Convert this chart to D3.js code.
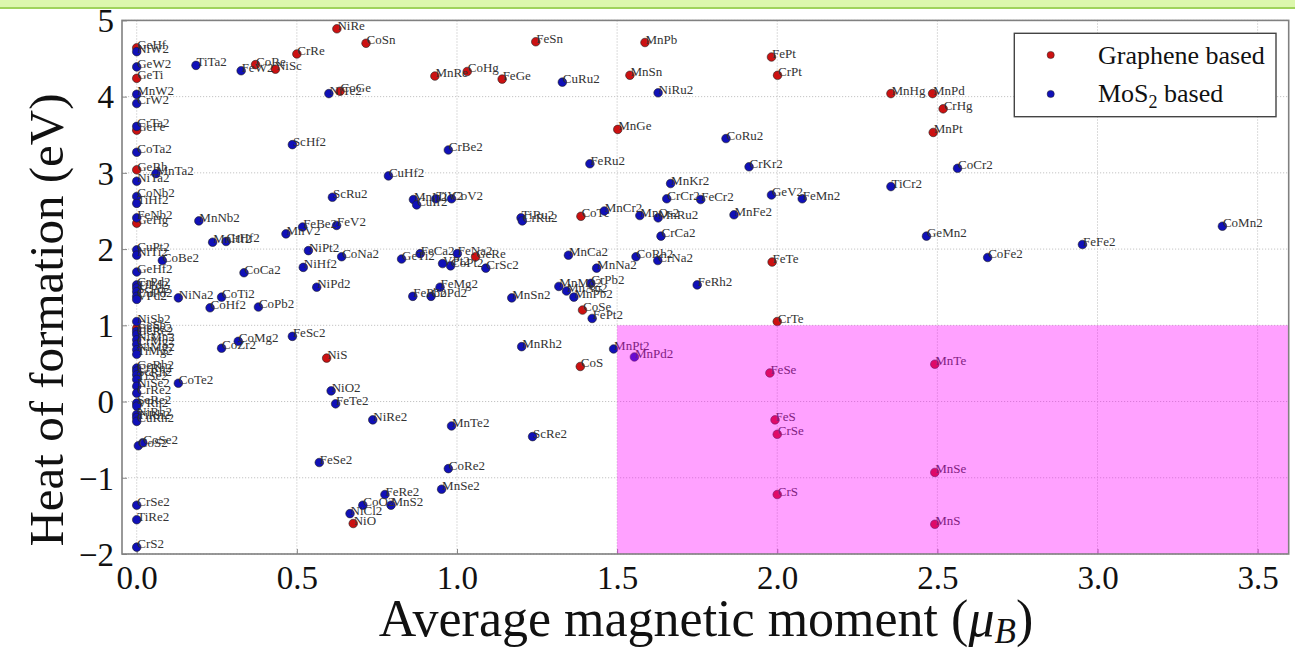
<!DOCTYPE html>
<html>
<head>
<meta charset="utf-8">
<script src="https://cdn.jsdelivr.net/npm/d3@7"></script>
<style>
  html, body { margin: 0; padding: 0; background: #fff; }
  svg { display: block; }
  text { font-family: "Liberation Serif", "Times New Roman", Times, serif; }
</style>
</head>
<body>
<svg id="chart" width="1295" height="651"></svg>
<script>
// Graphene-supported adatoms: [name, average magnetic moment (muB), heat of formation (eV)]
const graphene = [
  ["GeHf", 0.0, 4.64], ["GeTi", 0.0, 4.24], ["GeFe", 0.0, 3.56], ["GeRh", 0.0, 3.04],
  ["GeHg", 0.0, 2.34], ["GeSb", 0.0, 0.96],
  ["NiRe", 0.625, 4.89], ["CoSn", 0.716, 4.70], ["FeSn", 1.246, 4.72], ["MnPb", 1.587, 4.71],
  ["FePt", 1.982, 4.52], ["CrPt", 2.001, 4.28], ["CrRe", 0.50, 4.56], ["CoRe", 0.371, 4.42],
  ["NiSc", 0.433, 4.36], ["CoGe", 0.635, 4.07], ["MnRe", 0.931, 4.27], ["CoHg", 1.032, 4.33],
  ["FeGe", 1.141, 4.23], ["MnSn", 1.54, 4.28], ["MnGe", 1.502, 3.57], ["MnHg", 2.355, 4.04],
  ["MnPd", 2.485, 4.04], ["CrHg", 2.518, 3.84], ["MnPt", 2.487, 3.53], ["CoTe", 1.387, 2.43],
  ["GeRe", 1.058, 1.90], ["FeTe", 1.984, 1.83], ["CoSe", 1.392, 1.20], ["CrTe", 2.0, 1.05],
  ["NiS", 0.593, 0.57], ["CoS", 1.385, 0.46], ["FeSe", 1.977, 0.375], ["MnTe", 2.492, 0.49],
  ["FeS", 1.993, -0.24], ["CrSe", 2.0, -0.43], ["MnSe", 2.492, -0.93], ["CrS", 2.0, -1.22],
  ["MnS", 2.492, -1.61], ["NiO", 0.676, -1.60]
];

// MoS2-supported adatoms: [name, average magnetic moment (muB), heat of formation (eV)]
const mos2 = [
  ["NiW2", 0.0, 4.59], ["GeW2", 0.0, 4.39], ["MnW2", 0.0, 4.03], ["CrW2", 0.0, 3.91],
  ["CrTa2", 0.0, 3.61], ["CoTa2", 0.0, 3.27], ["NiTa2", 0.0, 2.89], ["CoNb2", 0.0, 2.69],
  ["TiHf2", 0.0, 2.60], ["FeNb2", 0.0, 2.41], ["CuPt2", 0.0, 1.99], ["NiTi2", 0.0, 1.92],
  ["GeHf2", 0.0, 1.70], ["CrPd2", 0.0, 1.53], ["TiPd2", 0.0, 1.49], ["ScPd2", 0.0, 1.44],
  ["CuPd2", 0.0, 1.38], ["VPd2", 0.0, 1.34], ["NiSb2", 0.0, 1.05], ["GeSe2", 0.0, 0.92],
  ["GeRe2", 0.0, 0.88], ["NiMn2", 0.0, 0.81], ["CrMg2", 0.0, 0.75], ["NiMg2", 0.0, 0.68],
  ["TiMg2", 0.0, 0.62], ["GeRh2", 0.0, 0.44], ["CrRh2", 0.0, 0.40], ["ScRh2", 0.0, 0.35],
  ["TiSe2", 0.0, 0.29], ["NiSe2", 0.0, 0.20], ["CrRe2", 0.0, 0.11], ["SeRe2", 0.0, -0.02],
  ["VRh2", 0.0, -0.06], ["NiRh2", 0.0, -0.17], ["TiRh2", 0.0, -0.21], ["CuRh2", 0.0, -0.26],
  ["CoS2", 0.005, -0.58], ["CoSe2", 0.019, -0.54], ["CrSe2", 0.0, -1.36], ["TiRe2", 0.0, -1.55],
  ["CrS2", 0.0, -1.91],
  ["TiTa2", 0.185, 4.41], ["FeW2", 0.326, 4.34], ["NiTe2", 0.60, 4.04], ["CuRu2", 1.329, 4.19],
  ["NiRu2", 1.628, 4.05], ["ScHf2", 0.486, 3.37], ["CrBe2", 0.973, 3.30], ["CoRu2", 1.84, 3.45],
  ["FeRu2", 1.415, 3.12], ["CrKr2", 1.912, 3.08], ["CoCr2", 2.563, 3.06], ["MnTa2", 0.06, 2.99],
  ["CuHf2", 0.786, 2.96], ["MnKr2", 1.667, 2.86], ["TiCr2", 2.355, 2.82], ["ScRu2", 0.611, 2.68],
  ["MnIr2", 0.864, 2.65], ["CuIr2", 0.874, 2.58], ["TiV2", 0.934, 2.66], ["CoV2", 0.983, 2.66],
  ["GeV2", 1.982, 2.71], ["FeMn2", 2.078, 2.66], ["CrCr2", 1.655, 2.66], ["FeCr2", 1.761, 2.65],
  ["MnCr2", 1.46, 2.50], ["MnOs2", 1.571, 2.44], ["MnRu2", 1.628, 2.41], ["MnFe2", 1.865, 2.45],
  ["TiRu2", 1.20, 2.41], ["CrRu2", 1.204, 2.37], ["MnNb2", 0.194, 2.37], ["FeBe2", 0.518, 2.29],
  ["FeV2", 0.624, 2.31], ["CoMn2", 3.39, 2.30], ["MnV2", 0.466, 2.20], ["MnHf2", 0.237, 2.09],
  ["CrHf2", 0.279, 2.10], ["CrCa2", 1.637, 2.17], ["GeMn2", 2.466, 2.17], ["FeFe2", 2.953, 2.06],
  ["NiPt2", 0.536, 1.98], ["FeCa2", 0.885, 1.94], ["FeNa2", 1.001, 1.94], ["MnCa2", 1.348, 1.92],
  ["CoNa2", 0.64, 1.90], ["CoRh2", 1.559, 1.90], ["CoFe2", 2.657, 1.89], ["GeTi2", 0.827, 1.87],
  ["CoBe2", 0.08, 1.85], ["CrNa2", 1.627, 1.85], ["VPt2", 0.955, 1.81], ["CoPt2", 0.98, 1.78],
  ["NiHf2", 0.52, 1.76], ["CrSc2", 1.09, 1.75], ["MnNa2", 1.436, 1.75], ["CoCa2", 0.335, 1.69],
  ["FeRh2", 1.75, 1.53], ["CrPb2", 1.418, 1.55], ["NiPd2", 0.562, 1.50], ["FeMg2", 0.947, 1.50],
  ["MnMg2", 1.318, 1.51], ["MnAu2", 1.342, 1.45], ["MnPb2", 1.365, 1.37], ["FePb2", 0.862, 1.38],
  ["CoPd2", 0.919, 1.38], ["MnSn2", 1.171, 1.36], ["NiNa2", 0.13, 1.36], ["CoTi2", 0.265, 1.37],
  ["CoHf2", 0.229, 1.23], ["CoPb2", 0.38, 1.24], ["FePt2", 1.422, 1.09], ["FeSc2", 0.486, 0.855],
  ["CoMg2", 0.317, 0.79], ["CoZr2", 0.265, 0.70], ["MnRh2", 1.202, 0.72], ["MnPt2", 1.489, 0.69],
  ["MnPd2", 1.554, 0.585], ["CoTe2", 0.13, 0.24], ["NiO2", 0.607, 0.14], ["FeTe2", 0.621, -0.03],
  ["NiRe2", 0.737, -0.24], ["MnTe2", 0.983, -0.32], ["ScRe2", 1.236, -0.46], ["FeSe2", 0.57, -0.80],
  ["CoRe2", 0.973, -0.88], ["MnSe2", 0.952, -1.15], ["FeRe2", 0.775, -1.22], ["CoO2", 0.706, -1.36],
  ["MnS2", 0.794, -1.36], ["NiCl2", 0.666, -1.47]
];

const xTicks = [0.0, 0.5, 1.0, 1.5, 2.0, 2.5, 3.0, 3.5];
const yTicks = [-2, -1, 0, 1, 2, 3, 4, 5];

const svg = d3.select("#chart");
const W = 1295, H = 651;
const plot = { left: 122, right: 1288.7, top: 20.4, bottom: 554 };

const x = d3.scaleLinear().domain([-0.046, 3.597]).range([plot.left, plot.right]);
const y = d3.scaleLinear().domain([-2, 5]).range([plot.bottom, plot.top]);

// dotted grid
const grid = svg.append("g");
grid.selectAll("line.gx").data(xTicks).join("line")
  .attr("x1", d => x(d)).attr("x2", d => x(d))
  .attr("y1", plot.top).attr("y2", plot.bottom)
  .attr("stroke", "#c4c4c4").attr("stroke-width", 1).attr("stroke-dasharray", "1.2,1.8");
grid.selectAll("line.gy").data(yTicks).join("line")
  .attr("x1", plot.left).attr("x2", plot.right)
  .attr("y1", d => y(d)).attr("y2", d => y(d))
  .attr("stroke", "#c4c4c4").attr("stroke-width", 1).attr("stroke-dasharray", "1.2,1.8");

// axes with inward ticks
const fmtX = d3.format(".1f");
const xAxis = svg.append("g").attr("transform", `translate(0,${plot.bottom})`)
  .call(d3.axisBottom(x).tickValues(xTicks).tickSize(-5).tickPadding(12).tickFormat(fmtX));
const yAxis = svg.append("g").attr("transform", `translate(${plot.left},0)`)
  .call(d3.axisLeft(y).tickValues(yTicks).tickSize(-5).tickPadding(8)
    .tickFormat(d => (d < 0 ? "\u2212" + Math.abs(d) : String(d))));
[xAxis, yAxis].forEach(a => {
  a.select(".domain").remove();
  a.selectAll(".tick line").attr("stroke", "#888");
  a.selectAll(".tick text")
    .attr("fill", "#111")
    .style("font-family", "'Liberation Serif', 'Times New Roman', serif")
    .style("font-size", "33px");
});
yAxis.selectAll(".tick text").attr("dy", "0.34em");
xAxis.selectAll(".tick text").attr("dy", "0.71em");

// points and their labels
function drawSeries(data, fill) {
  const g = svg.append("g");
  g.selectAll("circle").data(data).join("circle")
    .attr("cx", d => x(d[1])).attr("cy", d => y(d[2])).attr("r", 4.3)
    .attr("fill", fill).attr("stroke", "#222").attr("stroke-width", 0.6);
  g.selectAll("text").data(data).join("text")
    .attr("x", d => x(d[1]) + 0.5).attr("y", d => y(d[2]) + 1)
    .attr("fill", "#333").style("font-size", "13px")
    .text(d => d[0]);
}
drawSeries(graphene, "#cc1111");
drawSeries(mos2, "#1010b8");

// half-metal window: moment >= 1.5 and formation energy <= 1 eV
svg.append("rect")
  .attr("x", x(1.5)).attr("y", y(1))
  .attr("width", plot.right - x(1.5)).attr("height", plot.bottom - y(1))
  .attr("fill", "#ff00ff").attr("fill-opacity", 0.37);

// frame
svg.append("rect")
  .attr("x", plot.left).attr("y", plot.top)
  .attr("width", plot.right - plot.left).attr("height", plot.bottom - plot.top)
  .attr("fill", "none").attr("stroke", "#808080").attr("stroke-width", 1.6);

// legend
const leg = svg.append("g");
leg.append("rect").attr("x", 1014.3).attr("y", 33.3).attr("width", 261.7).attr("height", 83.4)
  .attr("fill", "#fff").attr("stroke", "#444").attr("stroke-width", 1.4);
const legendItems = [
  { fill: "#cc1111", cy: 55 },
  { fill: "#1010b8", cy: 94 }
];
leg.selectAll("circle").data(legendItems).join("circle")
  .attr("cx", 1050.7).attr("cy", d => d.cy).attr("r", 3.6)
  .attr("fill", d => d.fill).attr("stroke", "#222").attr("stroke-width", 0.5);
leg.append("text").attr("x", 1098).attr("y", 63.5).attr("fill", "#111")
  .style("font-size", "26px").text("Graphene based");
const mt = leg.append("text").attr("x", 1098).attr("y", 101.5).attr("fill", "#111")
  .style("font-size", "26px");
mt.append("tspan").text("MoS");
mt.append("tspan").attr("dy", 6).style("font-size", "18px").text("2");
mt.append("tspan").attr("dy", -6).text(" based");

// axis titles
svg.append("text")
  .attr("transform", "translate(63,320) rotate(-90)")
  .attr("text-anchor", "middle").attr("fill", "#111")
  .style("font-size", "49px").text("Heat of formation (eV)");
const xl = svg.append("text").attr("x", 706).attr("y", 636)
  .attr("text-anchor", "middle").attr("fill", "#111").style("font-size", "52px");
xl.append("tspan").text("Average magnetic moment (");
xl.append("tspan").style("font-style", "italic").text("\u03BC");
xl.append("tspan").attr("dy", 7).style("font-style", "italic").style("font-size", "35px").text("B");
xl.append("tspan").attr("dy", -7).text(")");

// slide header band
svg.append("rect").attr("x", 0).attr("y", 0).attr("width", W).attr("height", 8)
  .attr("fill", "#dcf7ad");
svg.append("rect").attr("x", 0).attr("y", 7).attr("width", W).attr("height", 2)
  .attr("fill", "#9fd35c");
</script>
</body>
</html>
